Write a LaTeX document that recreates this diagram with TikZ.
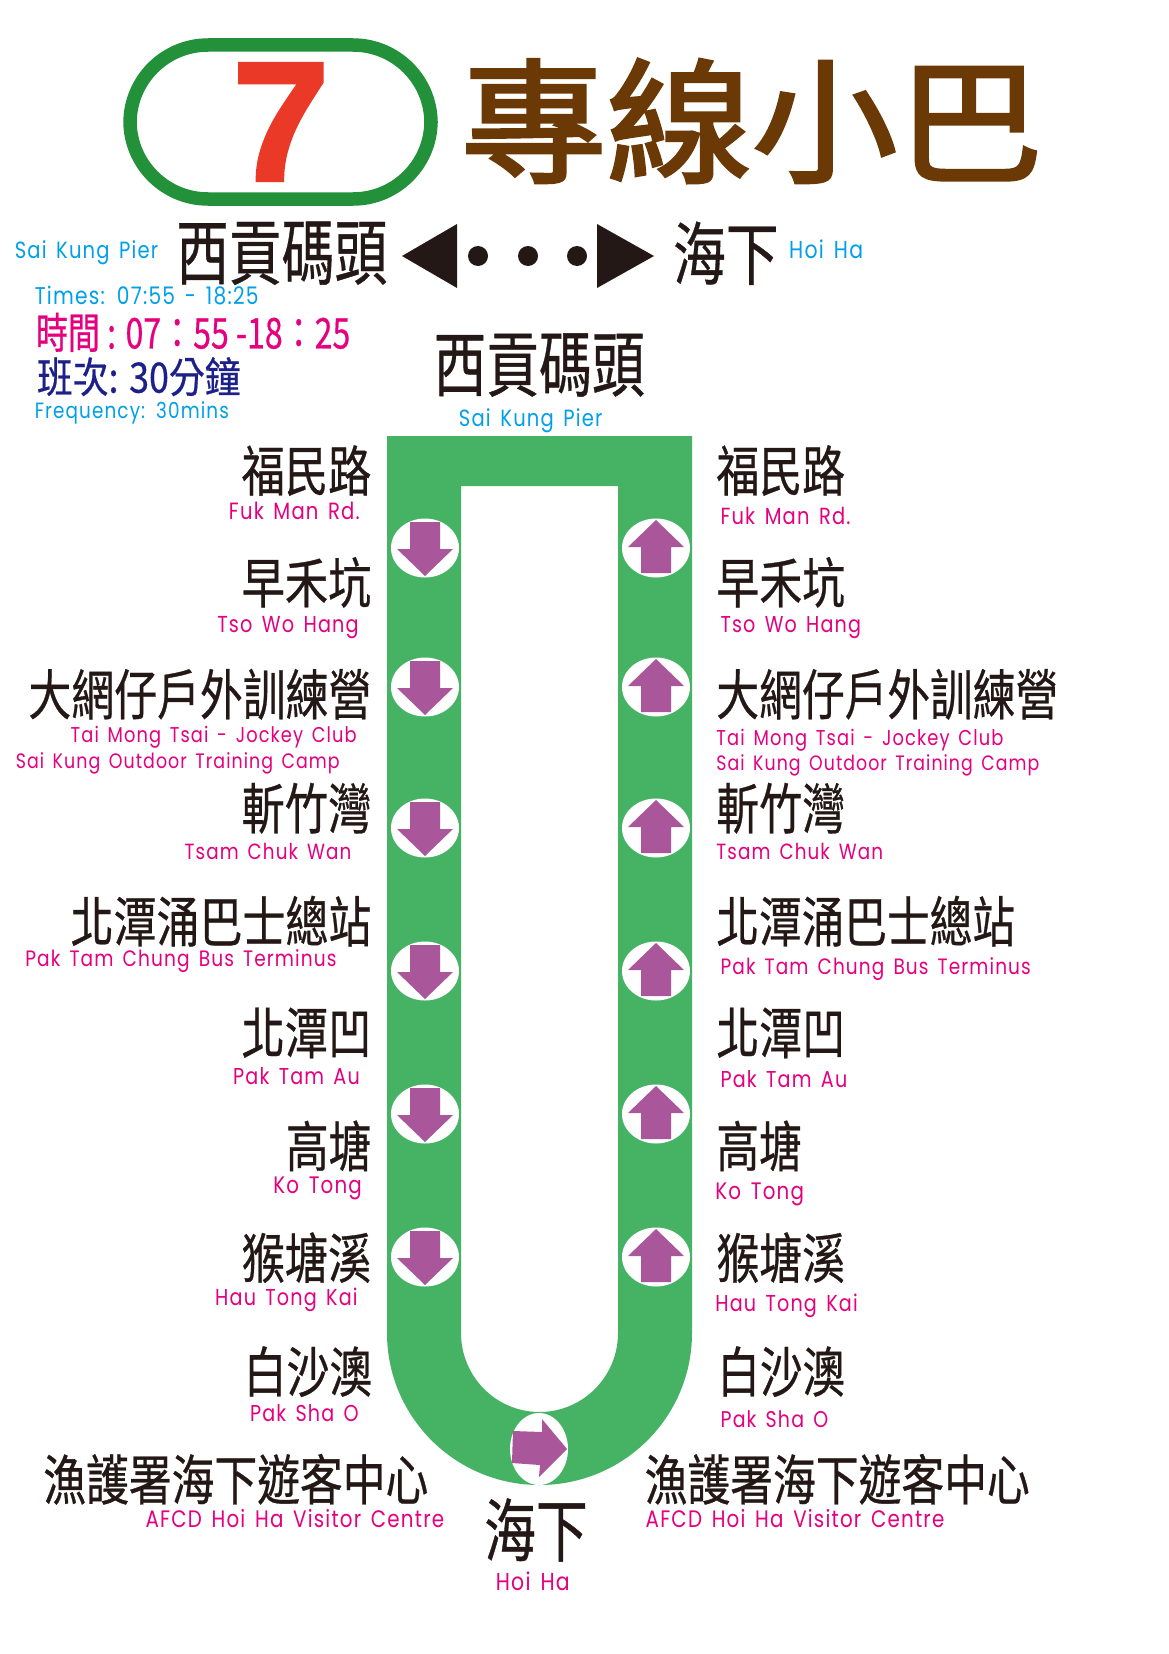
\documentclass[tikz,border=0pt]{standalone}
\usepackage{fontspec}
\usepackage{graphicx}
\usetikzlibrary{shapes.geometric}
\newfontfamily\cjkf[FakeBold=0.6]{Noto Sans CJK TC}
\newfontfamily\cjtitle[FakeBold=2.2]{Noto Sans CJK TC}
\newfontfamily\latf[LetterSpace=6,WordSpace=1.5]{Poppins}
\newfontfamily\sevf[BoldFeatures={FakeBold=2}]{Liberation Sans}
\definecolor{inkk}{HTML}{231815}
\definecolor{sky}{HTML}{00A0E9}
\definecolor{mag}{HTML}{E4007F}
\definecolor{navy}{HTML}{1D2088}
\definecolor{purp}{HTML}{A9569A}
\definecolor{track}{HTML}{45B363}
\definecolor{ring}{HTML}{22913A}
\definecolor{brownt}{HTML}{6A3906}
\definecolor{redt}{HTML}{EA3A27}
\def\kk{1.0551}
\tikzset{lab/.style={inner sep=0pt,outer sep=0pt},
  hole/.style={ellipse,fill=white,inner sep=0pt,minimum width=68pt,minimum height=59pt}}
% [colour]{name}{anchor}{x}{y}{width}{ink height}{text}; positions in the 1108-wide scale
\newcommand\ZH[7][inkk]{\node[lab,anchor=#3,text=#1] (#2) at ({#4*\kk},{#5*\kk})
  {\resizebox*{\kk\dimexpr #6pt\relax}{\kk\dimexpr #7pt\relax}{\cjkf\fontsize{40}{48}\selectfont\ZHtext}};}
\newcommand\EN[7][mag]{\node[lab,anchor=base west,text=#1] (#2) at ({#4*\kk},{(#5+8)*\kk})
  {\scalebox{1}[1.2]{\resizebox{\kk\dimexpr #6pt\relax}{!}{\latf\fontsize{20}{24}\selectfont #7}}};}
\begin{document}
\begin{tikzpicture}[x=1pt,y=-1pt]
\fill[white] (0,0) rectangle (1169,1654);
\useasboundingbox (0,0) rectangle (1169,1654);
% badge
\draw[ring,line width=13.5pt,rounded corners=78pt] (130,45) rectangle (431,199);
\node[lab,text=redt] (seven) at (281,122) {\scalebox{1.06}[1.03]{\sevf\bfseries\fontsize{165}{170}\selectfont 7}};
\node[lab,text=brownt,anchor=center] (title) at (752,121) {\resizebox*{582pt}{124pt}{\cjtitle\fontsize{40}{48}\selectfont 專線小巴}};
% direction row
\def\ZHtext{西貢碼頭}\ZH{tsk}{center}{267}{240}{200}{60}{}
\def\ZHtext{海下}\ZH{thh}{center}{688}{240}{100}{60}{}
\EN[sky]{tske}{west}{14}{237}{136}{Sai Kung Pier}
\EN[sky]{thhe}{west}{748}{237}{70}{Hoi Ha}
\fill[inkk] (402,256) -- (457,224) -- (457,288) -- cycle;
\fill[inkk] (654,256) -- (597,224) -- (597,288) -- cycle;
\foreach \x in {478,528,577} \fill[inkk] (\x,256) circle (10pt);
% times
\EN[sky]{times}{west}{33}{281}{212}{Times: 07:55 - 18:25}
\def\ZHtext{時間 : 07：55 -18：25}\ZH[mag]{timez}{west}{34}{315}{298}{37}{}
\def\ZHtext{班次: 30分鐘}\ZH[navy]{freqz}{west}{35}{357}{193}{37}{}
\EN[sky]{freq}{west}{33}{389}{184}{Frequency: 30mins}
% terminus
\def\ZHtext{西貢碼頭}\ZH{csk}{center}{511}{346}{200}{60}{}
\EN[sky]{cske}{west}{435}{396}{136}{Sai Kung Pier}
% track
\fill[track,even odd rule]
  (387,436) -- (692,436) -- (692,1333) arc[start angle=0,end angle=-180,x radius=152.5pt,y radius=152pt] -- cycle
  (461,486) -- (618,486) -- (618,1333) arc[start angle=0,end angle=-180,x radius=78.5pt,y radius=79pt] -- cycle;
\foreach \i/\yy in {1/548,2/687,3/828,4/971,5/1114,6/1257}{
  \node[hole] (dn\i) at (425,\yy) {};
  \node[hole] (up\i) at (656,\yy) {};
  \fill[purp,shift={(dn\i.center)}] (-15pt,26pt) -- (15pt,26pt) -- (15pt,-1pt) -- (28pt,-1pt) -- (0pt,-28pt) -- (-28pt,-1pt) -- (-15pt,-1pt) -- cycle;
  \fill[purp,shift={(up\i.center)}] (0pt,28pt) -- (28pt,1pt) -- (15pt,1pt) -- (15pt,-25pt) -- (-15pt,-25pt) -- (-15pt,1pt) -- (-28pt,1pt) -- cycle;
}
\node[hole,minimum width=58pt,minimum height=72pt] (turn) at (539,1449) {};
\fill[purp] (513,1431) -- (542,1432) -- (542,1419) -- (567,1449) -- (539,1477) -- (540,1465) -- (512,1463) -- cycle;
% left and right stations
\def\ZHtext{福民路}\ZH{l1}{east}{352}{446}{123}{48}{}\ZH{r1}{west}{679}{446}{122}{48}{}
\EN{l1e}{west}{217}{484}{124}{Fuk Man Rd.}\EN{r1e}{west}{683}{489}{123}{Fuk Man Rd.}
\def\ZHtext{早禾坑}\ZH{l2}{east}{352}{552}{123}{48}{}\ZH{r2}{west}{679}{552}{122}{48}{}
\EN{l2e}{west}{206}{591}{134}{Tso Wo Hang}\EN{r2e}{west}{683}{591}{133}{Tso Wo Hang}
\def\ZHtext{大網仔戶外訓練營}\ZH{l3}{east}{352}{658}{325}{48}{}\ZH{r3}{west}{679}{658}{324}{48}{}
\EN{l3e}{west}{67}{696}{271}{Tai Mong Tsai - Jockey Club}\EN{r3e}{west}{679}{699}{272}{Tai Mong Tsai - Jockey Club}
\EN{l3f}{west}{15}{720}{307}{Sai Kung Outdoor Training Camp}\EN{r3f}{west}{679}{722}{306}{Sai Kung Outdoor Training Camp}
\def\ZHtext{斬竹灣}\ZH{l4}{east}{352}{766}{123}{48}{}\ZH{r4}{west}{679}{766}{122}{48}{}
\EN{l4e}{west}{175}{807}{158}{Tsam Chuk Wan}\EN{r4e}{west}{679}{807}{158}{Tsam Chuk Wan}
\def\ZHtext{北潭涌巴士總站}\ZH{l5}{east}{352}{873}{285}{48}{}\ZH{r5}{west}{679}{873}{283}{48}{}
\EN{l5e}{west}{24}{908}{295}{Pak Tam Chung Bus Terminus}\EN{r5e}{west}{683}{916}{294}{Pak Tam Chung Bus Terminus}
\def\ZHtext{北潭凹}\ZH{l6}{east}{352}{979}{123}{48}{}\ZH{r6}{west}{679}{979}{122}{48}{}
\EN{l6e}{west}{221}{1020}{120}{Pak Tam Au}\EN{r6e}{west}{683}{1023}{120}{Pak Tam Au}
\def\ZHtext{高塘}\ZH{l7}{east}{352}{1086}{81}{48}{}\ZH{r7}{west}{679}{1086}{81}{48}{}
\EN{l7e}{west}{259}{1123}{84}{Ko Tong}\EN{r7e}{west}{678}{1129}{84}{Ko Tong}
\def\ZHtext{猴塘溪}\ZH{l8}{east}{352}{1192}{123}{48}{}\ZH{r8}{west}{679}{1192}{122}{48}{}
\EN{l8e}{west}{204}{1229}{135}{Hau Tong Kai}\EN{r8e}{west}{678}{1235}{135}{Hau Tong Kai}
\def\ZHtext{白沙澳}\ZH{l9}{east}{353}{1300}{122}{48}{}\ZH{r9}{west}{680}{1300}{121}{48}{}
\EN{l9e}{west}{237}{1339}{103}{Pak Sha O}\EN{r9e}{west}{683}{1345}{102}{Pak Sha O}
\def\ZHtext{漁護署海下遊客中心}\ZH{l10}{east}{406}{1402}{365}{48}{}\ZH{r10}{west}{611}{1402}{365}{48}{}
\EN{l10e}{west}{138}{1440}{283}{AFCD Hoi Ha Visitor Centre}\EN{r10e}{west}{612}{1440}{283}{AFCD Hoi Ha Visitor Centre}
\def\ZHtext{海下}\ZH{chh}{center}{508}{1450}{98}{60}{}
\EN{chhe}{west}{470}{1499}{70}{Hoi Ha}
\end{tikzpicture}
\end{document}
